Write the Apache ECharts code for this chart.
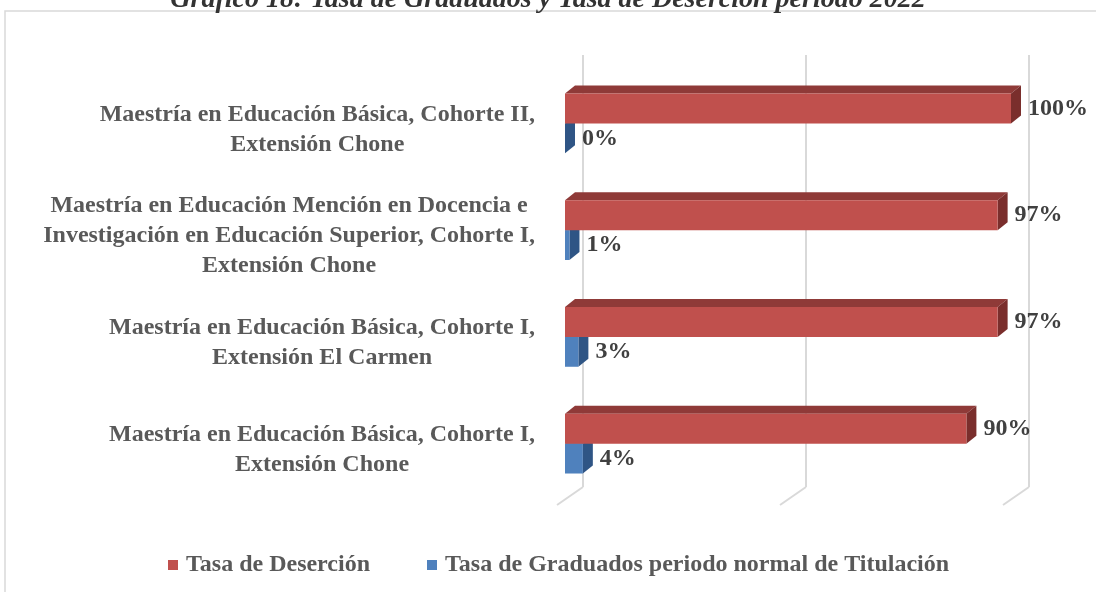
<!DOCTYPE html>
<html>
<head>
<meta charset="utf-8">
<script src="https://cdn.jsdelivr.net/npm/echarts@6/dist/echarts.min.js"></script>
<style>
  html, body { margin: 0; padding: 0; background: #fff; }
  #chart { width: 1096px; height: 592px; }
</style>
</head>
<body>
<div id="chart"></div>
<script>
// datos del gráfico
const categories = [
  'Maestría en Educación Básica, Cohorte II,\nExtensión Chone',
  'Maestría en Educación Mención en Docencia e\nInvestigación en Educación Superior, Cohorte I,\nExtensión Chone',
  'Maestría en Educación Básica, Cohorte I,\nExtensión El Carmen',
  'Maestría en Educación Básica, Cohorte I,\nExtensión Chone'
]
const desercion = [100, 97, 97, 90]
const graduados = [0, 1, 3, 4]
const seriesNames = ['Tasa de Deserción', 'Tasa de Graduados periodo normal de Titulación']
const wallTicks = [0, 50, 100]

const font = '"Liberation Serif", "Times New Roman", serif'
const DX = 10 // profundidad 3D
const DY = -8

// barra 3D: cara frontal, superior y lateral
function bar3d (colors, below) {
  return function (params, api) {
    const val = api.value(0)
    const start = api.coord([0, api.value(1)])
    const end = api.coord([val, api.value(1)])
    const h = api.size([0, 1])[1] * 0.28
    const y0 = below ? start[1] : start[1] - h
    const x0 = start[0]
    const x1 = end[0]
    return {
      type: 'group',
      children: [
        {
          type: 'polygon',
          shape: { points: [[x0, y0], [x1, y0], [x1 + DX, y0 + DY], [x0 + DX, y0 + DY]] },
          style: { fill: colors[1] }
        },
        {
          type: 'polygon',
          shape: { points: [[x1, y0], [x1 + DX, y0 + DY], [x1 + DX, y0 + h + DY], [x1, y0 + h]] },
          style: { fill: colors[2] }
        },
        {
          type: 'rect',
          shape: { x: x0, y: y0, width: x1 - x0, height: h },
          style: { fill: colors[0] }
        },
        {
          type: 'text',
          x: x1 + DX + 7,
          y: y0 + h / 2,
          style: {
            text: val + '%',
            fill: '#404040',
            font: 'bold 24px ' + font,
            verticalAlign: 'middle',
            align: 'left'
          }
        }
      ]
    }
  }
}

const myChart = echarts.init(document.getElementById('chart'))
const option = {
  animation: false,
  title: {
    text: '{i|Gráfico 18: Tasa de Graduados y Tasa de Deserción período }{b|2022}',
    left: 'center',
    top: -19,
    textStyle: {
      rich: {
        i: { fontFamily: font, fontStyle: 'italic', fontSize: 28, color: '#333333' },
        b: { fontFamily: font, fontStyle: 'italic', fontWeight: 'bold', fontSize: 28, color: '#333333' }
      }
    }
  },
  graphic: [{
    type: 'rect',
    shape: { x: 5, y: 11, width: 1200, height: 700 },
    style: { fill: 'none', stroke: '#d9d9d9', lineWidth: 1.5 },
    silent: true
  }],
  legend: {
    left: 163,
    top: 548,
    itemWidth: 10,
    itemHeight: 10,
    itemGap: 57,
    icon: 'rect',
    data: [
      { name: seriesNames[0], itemStyle: { color: '#c0504d' } },
      { name: seriesNames[1], itemStyle: { color: '#4f81bd' } }
    ],
    textStyle: {
      fontFamily: font,
      fontWeight: 'bold',
      fontSize: 24,
      color: '#595959',
      padding: [0, 0, 0, 3]
    }
  },
  grid: [
    { left: 565, width: 446, top: 70, height: 427 },
    { left: 583, width: 446, top: 55, height: 432 }
  ],
  xAxis: [
    { gridIndex: 0, type: 'value', min: 0, max: 100, show: false },
    {
      gridIndex: 1,
      type: 'value',
      min: 0,
      max: 100,
      interval: 50,
      axisLine: { show: false },
      axisTick: { show: false },
      axisLabel: { show: false },
      splitLine: { lineStyle: { color: '#d9d9d9', width: 2 } }
    }
  ],
  yAxis: [
    {
      gridIndex: 0,
      type: 'category',
      inverse: true,
      data: categories,
      axisLine: { show: false },
      axisTick: { show: false },
      axisLabel: {
        margin: 30,
        padding: [12, 0, 0, 0],
        formatter: function (value) {
          return value.split('\n').map(function (l) { return '{c|' + l + '}' }).join('\n')
        },
        rich: {
          c: {
            align: 'center',
            fontFamily: font,
            fontWeight: 'bold',
            fontSize: 24,
            lineHeight: 30,
            color: '#595959'
          }
        }
      }
    },
    { gridIndex: 1, type: 'value', min: 0, max: 1, show: false }
  ],
  series: [
    {
      // lineas del piso
      type: 'custom',
      xAxisIndex: 1,
      yAxisIndex: 1,
      silent: true,
      data: wallTicks.map(function (t) { return [t, 0] }),
      renderItem: function (params, api) {
        const p = api.coord([api.value(0), 0])
        return {
          type: 'line',
          shape: { x1: p[0], y1: p[1], x2: p[0] - 26, y2: p[1] + 18 },
          style: { stroke: '#d9d9d9', lineWidth: 2 }
        }
      }
    },
    {
      name: seriesNames[1],
      type: 'custom',
      xAxisIndex: 0,
      yAxisIndex: 0,
      itemStyle: { color: '#4f81bd' },
      encode: { x: 0, y: 1 },
      data: graduados.map(function (v, i) { return [v, i] }),
      renderItem: bar3d(['#4f81bd', '#3a6293', '#2f5585'], true)
    },
    {
      name: seriesNames[0],
      type: 'custom',
      xAxisIndex: 0,
      yAxisIndex: 0,
      itemStyle: { color: '#c0504d' },
      encode: { x: 0, y: 1 },
      data: desercion.map(function (v, i) { return [v, i] }),
      renderItem: bar3d(['#c0504d', '#8f3a38', '#7a2e2c'], false)
    }
  ]
}
myChart.setOption(option, true)
</script>
</body>
</html>
